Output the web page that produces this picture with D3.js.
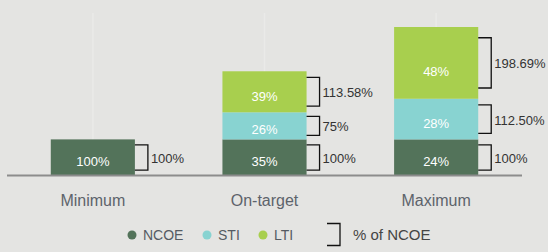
<!DOCTYPE html>
<html>
<head>
<meta charset="utf-8">
<script src="https://cdn.jsdelivr.net/npm/d3@7"></script>
<style>
  html, body { margin: 0; padding: 0; background: #e4e4e2; }
  svg { display: block; font-family: "Liberation Sans", Arial, sans-serif; }
</style>
</head>
<body>
<script>
// chart data
const categories = ["Minimum", "On-target", "Maximum"];
const seriesNames = ["NCOE", "STI", "LTI"];
const ncoe = [100, 100, 100];
const sti = [0, 75, 112.5];
const lti = [0, 113.58, 198.69];
const shareLabels = [["100%", "", ""], ["35%", "26%", "39%"], ["24%", "28%", "48%"]];
const ncoeLabels = [["100%", "", ""], ["100%", "75%", "113.58%"], ["100%", "112.50%", "198.69%"]];
const colors = ["#53735a", "#88d3d1", "#a8cf4e"];

const W = 548, H = 252;
const baseY = 175.5;

const svg = d3.select("body").append("svg")
    .attr("width", W)
    .attr("height", H);

const x = d3.scaleBand()
    .domain(categories)
    .range([7, 522]);

const y = d3.scaleLinear()
    .domain([0, 411.19])
    .range([baseY, 27]);

const barW = x.bandwidth() * 0.49;

// faint vertical guides
svg.selectAll(".guide")
    .data(categories)
    .enter().append("line")
    .attr("x1", d => x(d) + x.bandwidth() / 2)
    .attr("x2", d => x(d) + x.bandwidth() / 2)
    .attr("y1", 13)
    .attr("y2", baseY)
    .attr("stroke", "#eaeae8")
    .attr("stroke-width", 1.5);

const rows = categories.map((c, i) => ({ cat: c, NCOE: ncoe[i], STI: sti[i], LTI: lti[i], idx: i }));
const stacked = d3.stack().keys(seriesNames)(rows);

stacked.forEach((layer, k) => {
    layer.forEach((seg, i) => {
        const v = seg[1] - seg[0];
        if (v <= 0) return;
        const cx = x(categories[i]) + x.bandwidth() / 2;
        const x0 = cx - barW / 2, x1 = cx + barW / 2;
        const top = y(seg[1]), bot = y(seg[0]);
        const h = bot - top;

        svg.append("rect")
            .attr("x", x0)
            .attr("y", top)
            .attr("width", barW)
            .attr("height", h)
            .attr("fill", colors[k]);

        svg.append("text")
            .attr("x", cx)
            .attr("y", top + h * 0.62)
            .attr("dy", "0.35em")
            .attr("text-anchor", "middle")
            .attr("fill", "#fff")
            .attr("font-size", 13)
            .text(shareLabels[i][k]);

        const inset = Math.max(4, h * 0.15);
        const bt = top + inset, bb = bot - inset;
        svg.append("path")
            .attr("d", `M${x1},${bt}H${x1 + 13}V${bb}H${x1}`)
            .attr("fill", "none")
            .attr("stroke", "#111")
            .attr("stroke-width", 1.3);

        svg.append("text")
            .attr("x", x1 + 16)
            .attr("y", (bt + bb) / 2 + 1)
            .attr("dy", "0.35em")
            .attr("fill", "#333")
            .attr("font-size", 13)
            .text(ncoeLabels[i][k]);
    });
});

// baseline
svg.append("line")
    .attr("x1", 7).attr("x2", 522)
    .attr("y1", baseY).attr("y2", baseY)
    .attr("stroke", "#8c8c8c")
    .attr("stroke-width", 2);

// category labels
svg.selectAll(".cat")
    .data(categories)
    .enter().append("text")
    .attr("x", d => x(d) + x.bandwidth() / 2)
    .attr("y", 206)
    .attr("text-anchor", "middle")
    .attr("fill", "#5d636b")
    .attr("font-size", 16)
    .text(d => d);

// legend
const legX = [132, 207, 263];
seriesNames.forEach((s, k) => {
    svg.append("circle")
        .attr("cx", legX[k])
        .attr("cy", 235)
        .attr("r", 4.5)
        .attr("fill", colors[k]);
    svg.append("text")
        .attr("x", legX[k] + 11)
        .attr("y", 240.3)
        .attr("fill", "#555b63")
        .attr("font-size", 14)
        .text(s);
});

svg.append("path")
    .attr("d", "M327,223.5H340V245.5H327")
    .attr("fill", "none")
    .attr("stroke", "#111")
    .attr("stroke-width", 1.3);

svg.append("text")
    .attr("x", 353)
    .attr("y", 240.3)
    .attr("fill", "#444")
    .attr("font-size", 15)
    .text("% of NCOE");
</script>
</body>
</html>
